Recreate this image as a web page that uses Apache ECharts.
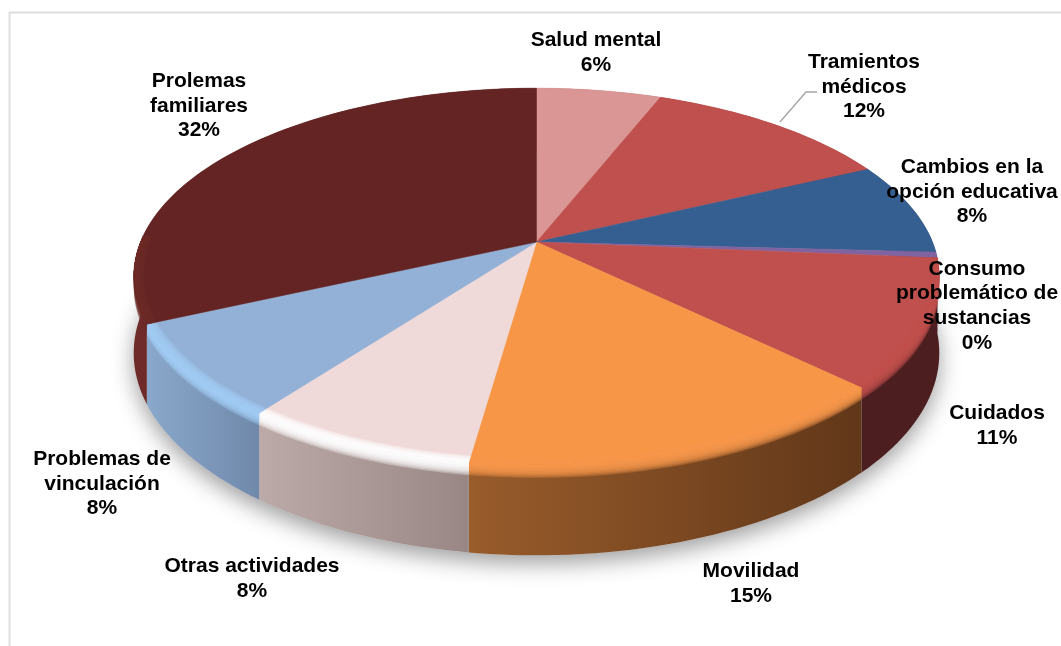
<!DOCTYPE html>
<html>
<head>
<meta charset="utf-8">
<style>html,body{margin:0;padding:0;background:#fff}#c{width:1061px;height:646px}</style>
<script src="https://cdn.jsdelivr.net/npm/echarts@6/dist/echarts.min.js"></script>
</head>
<body>
<div id="c"></div>
<script>
// ---- data ----
const categories = ['Salud mental','Tramientos\nmédicos','Cambios en la\nopción educativa','Consumo\nproblemático de\nsustancias','Cuidados','Movilidad','Otras actividades','Problemas de\nvinculación','Prolemas\nfamiliares'];
const values = [6, 12, 8, 0.49, 11, 15, 8, 8, 32];
// ---- styles (one per slice) ----
const topColors = ['#d99694','#c0504d','#365f91','#8064a2','#c0504d','#f79646','#efdad9','#93b0d6','#632423'];
const wallLeft  = ['#a66','#833','#245','#547','#4c1e20','#995c2b','#bcaaa8','#8aa8cb','#6e2b29'];
const wallRight = ['#a66','#833','#245','#547','#4c1e20','#613719','#998785','#7089ab','#5e2120'];
const highlight = [null,null,null,null,'#c0504d','#f8994c','#ffffff','#a3ccf6','#6c2a28'];
const labelCentres = [[596,53],[864,87],[972,192],[977,306],[997,426],[751,584],[252,579],[102,484],[199,106]];
// ---- layout of the tilted disc ----
const CX = 536.5, CY = 242, RX = 396, RY = 182, K = 0.183, DEPTH = 74;
const total = values.reduce((a,b)=>a+b,0);
const starts = []; values.reduce((acc,v,i)=>{starts[i]=acc;return acc+v;},0);
const ang = p => p/total*360;
function project(a, r, h){
  const t=a*Math.PI/180, u=r*Math.sin(t), v=-r*Math.cos(t), s=1/(1-K*v);
  return [CX+RX*u*s, CY+RY*v*s+DEPTH*h*s];
}
function arc(a0,a1,r,h){
  const n=Math.max(2,Math.ceil((a1-a0)/1.5)), out=[];
  for(let i=0;i<=n;i++) out.push(project(a0+(a1-a0)*i/n,r,h));
  return out;
}
function band(a0,a1,r0,h0,r1,h1){ return arc(a0,a1,r0,h0).concat(arc(a0,a1,r1,h1).reverse()); }

function shadowItem(){
  return {type:'polygon',shape:{points:arc(0,360,1,1)},
    style:{fill:'#d8d8d8',shadowColor:'rgba(0,0,0,0.38)',shadowBlur:22,shadowOffsetY:8}};
}
function wallItem(params,api){
  const i=api.value(0), a0=ang(starts[i]), a1=ang(starts[i]+values[i]);
  return {type:'polygon',shape:{points:band(a0,a1,1,0,1,1)},
    style:{fill:new echarts.graphic.LinearGradient(0,0,1,0,[{offset:0,color:wallLeft[i]},{offset:1,color:wallRight[i]}])}};
}
function topItem(params,api){
  const i=api.value(0), a0=ang(starts[i]), a1=ang(starts[i]+values[i]);
  const kids=[{type:'polygon',shape:{points:[project(0,0,0)].concat(arc(a0,a1,1,0))},style:{fill:topColors[i],stroke:topColors[i],lineWidth:0.5}}];
  if(highlight[i]){
    const b0=Math.max(a0,90), b1=Math.min(a1,272), N=7;
    for(let k=0;k<N;k++){ // overlapping translucent strips give a seamless ramp
      kids.push({type:'polygon',shape:{points:band(b0,b1,0.975+0.025*k/N,0,1,0)},
        style:{fill:highlight[i],opacity:0.3}});
    }
    const M=10;
    for(let k=1;k<=M;k++){
      kids.push({type:'polygon',shape:{points:band(b0,b1,1,0,1,0.145*k/M)},
        style:{fill:highlight[i],opacity:0.3}});
    }
  }
  return {type:'group',children:kids};
}
const rows = values.map((v,i)=>[i,v]);
const option = {
  animation:false,
  backgroundColor:'#fff',
  series:[
    {type:'custom',coordinateSystem:'none',renderItem:shadowItem,data:[[0]],silent:true,z:1},
    {type:'custom',coordinateSystem:'none',renderItem:wallItem,data:rows,silent:true,z:2},
    {type:'custom',coordinateSystem:'none',renderItem:topItem,data:rows,silent:true,z:3}
  ],
  graphic:{elements:[
    {type:'polyline',z:5,shape:{points:[[1061,12.5],[9.5,12.5],[9.5,646]]},style:{stroke:'#dedede',lineWidth:2,fill:null}},
    {type:'polyline',z:6,shape:{points:[[780,122],[806,92],[817,92]]},style:{stroke:'#a6a6a6',lineWidth:1.4,fill:null}}
  ].concat(categories.map((c,i)=>({
    type:'text',z:10,x:labelCentres[i][0],y:labelCentres[i][1],
    style:{text:c+'\n'+Math.round(values[i])+'%',align:'center',verticalAlign:'middle',
      font:'bold 21px "Liberation Sans", Arial, sans-serif',lineHeight:24.6,fill:'#000'}
  })))}
};
echarts.init(document.getElementById('c'),null,{renderer:'canvas'}).setOption(option);
</script>
</body>
</html>
